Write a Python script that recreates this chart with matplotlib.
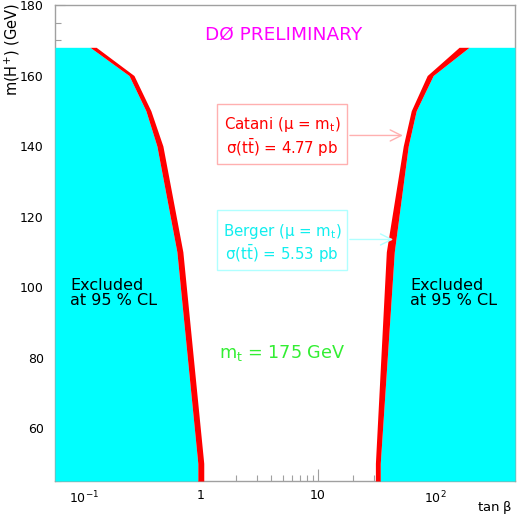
import numpy as np
import matplotlib
matplotlib.use('Agg')
import matplotlib.pyplot as plt
from matplotlib.patches import Rectangle
from matplotlib.ticker import LogLocator, FixedLocator, MultipleLocator, NullFormatter

plt.rcParams['font.family'] = ['DejaVu Sans']
plt.rcParams['mathtext.default'] = 'regular'

# charged Higgs mass points (GeV)
mass = [45, 50, 110, 140, 150, 160, 168]

# low tan(beta) limit, Berger (cyan edge) and Catani (outer red edge)
low_berger = [0.943, 0.943, 0.625, 0.422, 0.340, 0.244, 0.1135]
low_catani = [1.06, 1.06, 0.703, 0.475, 0.375, 0.269, 0.128]

# high tan(beta) limit
high_berger = [34.0, 34.0, 44.8, 58.9, 68.9, 96.2, 194.6]
high_catani = [30.9, 30.9, 38.3, 53.4, 62.5, 85.5, 160.0]

xmin, xmax = 0.057, 480.0
ymin, ymax = 45, 180

cyan = '#00ffff'
red = '#ff0000'
grey = '#a0a0a0'

fig = plt.figure(figsize=(5.18, 5.19), dpi=100)
ax = fig.add_axes([55/518, 38/519, 460/518, 476/519])
ax.set_xscale('log')
ax.set_xlim(xmin, xmax)
ax.set_ylim(ymin, ymax)

# excluded regions
ax.fill_betweenx(mass, xmin, low_berger, color=cyan, lw=0, zorder=2)
ax.fill_betweenx(mass, low_berger, low_catani, color=red, lw=0, zorder=3)
ax.fill_betweenx(mass, high_berger, xmax, color=cyan, lw=0, zorder=2)
ax.fill_betweenx(mass, high_catani, high_berger, color=red, lw=0, zorder=3)

# axes look
for s in ax.spines.values():
    s.set_color(grey)
    s.set_linewidth(1.0)
    s.set_zorder(1)
ax.set_axisbelow(True)
ax.xaxis.set_major_locator(FixedLocator([0.1, 1, 10, 100]))
ax.set_xticklabels(['$10^{-1}$', '1', '10', '$10^{2}$'])
ax.xaxis.set_minor_locator(LogLocator(base=10, subs=np.arange(2, 10)))
ax.xaxis.set_minor_formatter(NullFormatter())
ax.yaxis.set_major_locator(FixedLocator([60, 80, 100, 120, 140, 160, 180]))
ax.yaxis.set_minor_locator(MultipleLocator(5))
ax.tick_params(axis='both', which='major', direction='in', length=9, width=0.8,
               color=grey, labelsize=9, pad=6)
ax.tick_params(axis='both', which='minor', direction='in', length=4, width=0.8,
               color=grey)
ax.tick_params(axis='y', which='major', length=7, pad=8)

fig.text(512/518, 1 - 508/519, r'tan $\beta$', ha='right', va='center', fontsize=9.5)
fig.text(12/518, 1 - 3/519, r'm(H$^{+}$) (GeV)', rotation=90, ha='center', va='top',
         fontsize=10.5)

# labels
ax.text(0.496, 0.937, 'DØ PRELIMINARY', transform=ax.transAxes, color='#ff00ff',
        ha='center', va='center', fontsize=13.3, zorder=5)

ax.add_patch(Rectangle((0.352, 0.666), 0.283, 0.126, transform=ax.transAxes,
                       fill=False, edgecolor='#ffb0b0', lw=1, zorder=5))
ax.text(0.4935, 0.748, r'Catani ($\mu$ = m$_t$)', transform=ax.transAxes, color=red,
        ha='center', va='center', fontsize=10.8, zorder=5)
ax.text(0.4935, 0.700, r'$\sigma$(t$\bar{t}$) = 4.77 pb', transform=ax.transAxes,
        color=red, ha='center', va='center', fontsize=10.8, zorder=5)

ax.add_patch(Rectangle((0.352, 0.443), 0.283, 0.126, transform=ax.transAxes,
                       fill=False, edgecolor='#b0ffff', lw=1, zorder=5))
ax.text(0.4935, 0.525, r'Berger ($\mu$ = m$_t$)', transform=ax.transAxes, color='#10eeee',
        ha='center', va='center', fontsize=10.8, zorder=5)
ax.text(0.4935, 0.477, r'$\sigma$(t$\bar{t}$) = 5.53 pb', transform=ax.transAxes,
        color='#10eeee', ha='center', va='center', fontsize=10.8, zorder=5)

# arrows from the boxes to the curves
m_cat, m_ber = 143, 113.5
x_cat = 10 ** np.interp(m_cat, mass, np.log10(high_catani))
x_ber = 10 ** np.interp(m_ber, mass, np.log10(high_berger))
ax.annotate('', xy=(x_cat, m_cat), xytext=(0.635, (m_cat - ymin) / (ymax - ymin)),
            xycoords='data', textcoords='axes fraction',
            arrowprops=dict(arrowstyle='->', color='#ffb0b0', lw=1, mutation_scale=20),
            zorder=5)
ax.annotate('', xy=(x_ber, m_ber), xytext=(0.635, (m_ber - ymin) / (ymax - ymin)),
            xycoords='data', textcoords='axes fraction',
            arrowprops=dict(arrowstyle='->', color='#b0ffff', lw=1, mutation_scale=20),
            zorder=5)

ax.text(0.033, 0.395, 'Excluded\nat 95 % CL', transform=ax.transAxes, color='black',
        ha='left', va='center', fontsize=11.5, linespacing=1.0, zorder=5)
ax.text(0.772, 0.395, 'Excluded\nat 95 % CL', transform=ax.transAxes, color='black',
        ha='left', va='center', fontsize=11.5, linespacing=1.0, zorder=5)

ax.text(0.4935, 0.269, 'm$_t$ = 175 GeV', transform=ax.transAxes, color='#33ee33',
        ha='center', va='center', fontsize=12.7, zorder=5)

plt.savefig('out.png', dpi=100)
